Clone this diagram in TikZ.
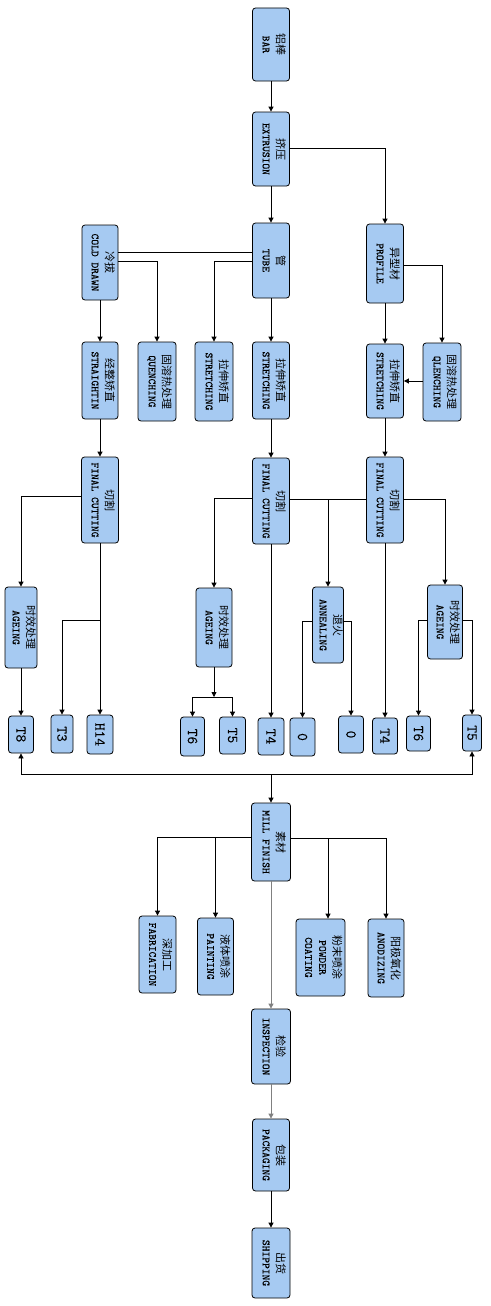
\documentclass[tikz,border=0pt]{standalone}
\usepackage{fontspec}
\setmonofont{Latin Modern Mono}[FakeBold=0.3]
\newfontfamily\cjk{Noto Sans CJK SC}
\usetikzlibrary{arrows.meta}
\definecolor{boxblue}{RGB}{166,202,242}
\newcommand{\duo}[2]{\hspace*{3pt}\rotatebox{-90}{\begin{tabular}{@{}c@{}}{\cjk\fontsize{11}{14}\selectfont #1}\\#2\end{tabular}}}
\newcommand{\uno}[1]{\rotatebox{-90}{#1}}

\begin{document}
\begin{tikzpicture}[
    x=1pt, y=-1pt,
    stagebox/.style 2 args={draw, fill=boxblue, rounded corners=3pt,
      line width=0.8pt, inner sep=0pt, minimum width=#1, minimum height=#2,
      font=\ttfamily\fontsize{11}{14}\selectfont},
    tbox/.style 2 args={stagebox={#1}{#2}, font=\ttfamily\fontsize{15}{15}\selectfont},
    flow/.style={line width=0.8pt, -{Triangle[width=5pt,length=5pt]}},
    link/.style={line width=0.8pt},
    ]
    \useasboundingbox (0,0) rectangle (490,1306);
    % main line
    \node[stagebox={37}{73}] (bar) at (271,44.5) {\duo{铝棒}{BAR}};
    \node[stagebox={37}{74}] (extr) at (271,149) {\duo{挤压}{EXTRUSION}};
    \node[stagebox={36}{75}] (cold) at (100,262.5) {\duo{冷拔}{COLD DRAWN}};
    \node[stagebox={37}{75}] (tube) at (271,260.5) {\duo{管}{TUBE}};
    \node[stagebox={37}{79}] (prof) at (385,263.5) {\duo{异型材}{PROFILE}};
    % straightening / quenching
    \node[stagebox={36}{77}] (strA) at (100,380.5) {\duo{经整矫直}{STRAIGHTIN}};
    \node[stagebox={38}{79}] (queA) at (157,381.5) {\duo{固溶热处理}{QUENCHING}};
    \node[stagebox={38}{79}] (strB) at (214,381.5) {\duo{拉伸矫直}{STRETCHING}};
    \node[stagebox={37}{77}] (strC) at (271,380.5) {\duo{拉伸矫直}{STRETCHING}};
    \node[stagebox={37}{74}] (strD) at (385,381) {\duo{拉伸矫直}{STRETCHING}};
    \node[stagebox={38}{78}] (queB) at (442,382) {\duo{固溶热处理}{QLENCHING}};
    % cutting
    \node[stagebox={37}{86}] (cutA) at (100,500) {\duo{切割}{FINAL CUTTING}};
    \node[stagebox={37}{86}] (cutB) at (271,501) {\duo{切割}{FINAL CUTTING}};
    \node[stagebox={37}{86}] (cutC) at (385,500) {\duo{切割}{FINAL CUTTING}};
    % ageing / annealing
    \node[stagebox={32}{81}] (ageA) at (21,627.5) {\duo{时效处理}{AGEING}};
    \node[stagebox={36}{79}] (ageB) at (214,627.5) {\duo{时效处理}{AGEING}};
    \node[stagebox={31}{76}] (ann) at (328,625) {\duo{退火}{ANNEALING}};
    \node[stagebox={35}{74}] (ageC) at (445,622) {\duo{时效处理}{AGEING}};
    % tempers
    \node[tbox={25}{37}] (t8) at (21,734.5) {\uno{T8}};
    \node[tbox={22}{38}] (t3) at (62,734) {\uno{T3}};
    \node[tbox={26}{39}] (h14) at (100,734.5) {\uno{H14}};
    \node[tbox={24}{39}] (t6a) at (192.5,736.5) {\uno{T6}};
    \node[tbox={26}{37}] (t5a) at (232.5,735.5) {\uno{T5}};
    \node[tbox={26}{37}] (t4a) at (271,736.5) {\uno{T4}};
    \node[tbox={25}{38}] (o1) at (302.5,737) {\uno{0}};
    \node[tbox={25}{37}] (o2) at (351,734.5) {\uno{0}};
    \node[tbox={25}{36}] (t4b) at (385,736) {\uno{T4}};
    \node[tbox={24}{35}] (t6b) at (418.5,733.5) {\uno{T6}};
    \node[tbox={19}{36}] (t5b) at (472,733) {\uno{T5}};
    % finishing
    \node[stagebox={39}{78}] (mill) at (271,842) {\duo{素材}{MILL FINISH}};
    \node[stagebox={37}{77}] (fab) at (157.5,954.5) {\duo{深加工}{FABRICATION}};
    \node[stagebox={36}{77}] (pai) at (215.5,956.5) {\duo{液体喷涂}{PAINTING}};
    \node[stagebox={49}{77}] (pow) at (320.5,957.5) {\duo{粉末喷涂}{POWDER\\COATING}};
    \node[stagebox={36}{78}] (ano) at (386,958) {\duo{阳极氧化}{ANODIZING}};
    \node[stagebox={39}{75}] (insp) at (271,1046.5) {\duo{检验}{INSPECTION}};
    \node[stagebox={37}{72}] (pack) at (271,1155) {\duo{包装}{PACKAGING}};
    \node[stagebox={38}{70}] (ship) at (271,1263) {\duo{出货}{SHIPPING}};

    \draw[flow] (bar) -- (extr);
    \draw[flow] (extr.east |- 0,148) -| (prof.north);
    \draw[flow] (extr) -- (tube);
    \draw[link] (tube.west |- 0,252) -- (cold.east |- 0,252);
    \draw[flow] (cold.east |- 0,261) -| (queA.north);
    \draw[flow] (tube.west |- 0,261) -| (strB.north);
    \draw[flow] (cold) -- (strA);
    \draw[flow] (tube) -- (strC);
    \draw[flow] (prof) -- (strD);
    \draw[flow] (prof.east |- 0,265) -| (queB.north);
    \draw[flow] (queB.west |- 0,381) -- (strD.east |- 0,381);
    \draw[flow] (strA) -- (cutA);
    \draw[flow] (strC) -- (cutB);
    \draw[flow] (strD) -- (cutC);
    \draw[flow] (cutA.west |- 0,496) -| (ageA.north);
    \draw[flow] (cutB.west |- 0,498) -| (ageB.north);
    \coordinate (annfork) at (328,499);
    \draw[link] (cutB.east |- annfork) -- (cutC.west |- annfork);
    \draw[flow] (annfork) -- (ann.north);
    \draw[flow] (cutC.east |- 0,499) -| (ageC.north);
    \coordinate (t3fork) at (100,620);
    \draw[flow] (cutA) -- (h14);
    \draw[flow] (t3fork) -| (t3.north);
    \draw[flow] (cutB) -- (t4a);
    \draw[flow] (cutC) -- (t4b);
    \draw[flow] (ageA) -- (t8);
    \coordinate (agefork) at (214,697);
    \draw[flow] (ageB) -- (agefork);
    \draw[flow] (agefork) -| (t6a.north);
    \draw[flow] (agefork) -| (t5a.north);
    \draw[flow] (ann.west |- 0,621) -| (o1.north);
    \draw[flow] (ann.east |- 0,621) -| (o2.north);
    \draw[flow] (ageC.west |- 0,620) -| (t6b.north);
    \draw[flow] (ageC.east |- 0,620) -| (t5b.north);
    % back to mill finish
    \coordinate (gather) at (271,774);
    \draw[flow] (gather) -| (t8.south);
    \draw[flow] (gather) -| (t5b.south);
    \draw[flow] (gather) -- (mill);
    \draw[flow] (mill.west |- 0,837) -| (fab.north);
    \draw[flow] (mill.west |- 0,837) -| (pai.north);
    \draw[flow] (mill.east |- 0,838) -| (ano.north);
    \draw[flow] (mill.east |- 0,838) -| (pow.north -| 328,0);
    \draw[flow, draw=gray] (mill) -- (insp);
    \draw[flow, draw=gray] (insp) -- (pack);
    \draw[flow] (pack) -- (ship);
\end{tikzpicture}
\end{document}
